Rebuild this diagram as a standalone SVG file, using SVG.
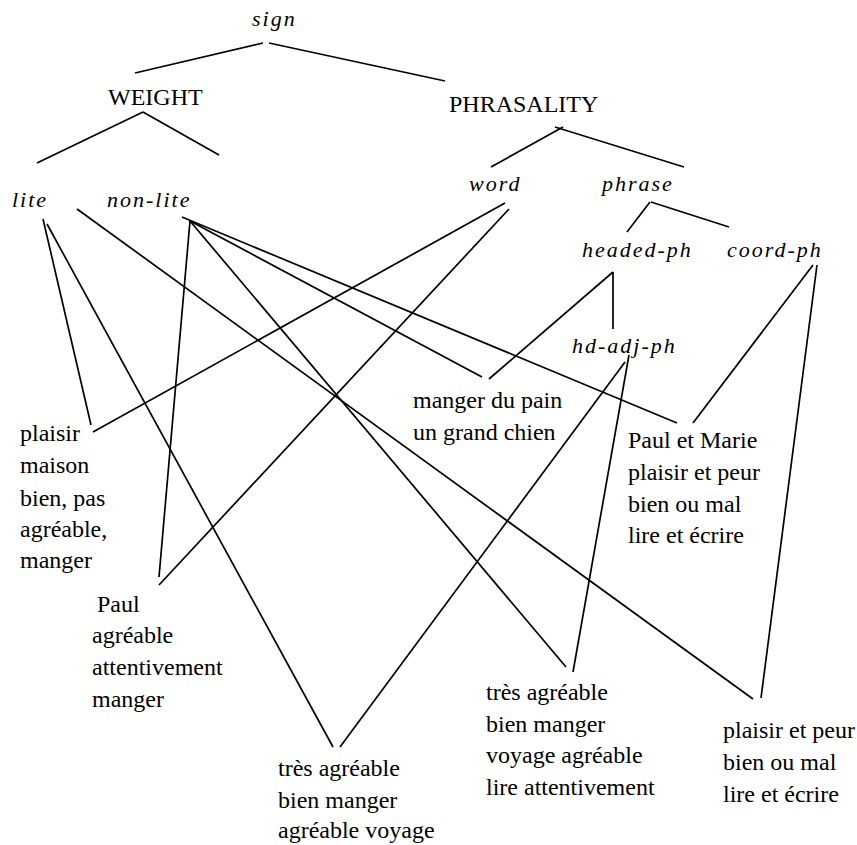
<svg xmlns="http://www.w3.org/2000/svg" width="857" height="845" viewBox="0 0 857 845">
<style>
text{font-family:"Liberation Serif","Times New Roman",serif;fill:#000}
.t{font-size:24px}
.i{font-size:22px;font-style:italic;letter-spacing:2px}
#connectors line{stroke:#000;stroke-width:1.7;stroke-linecap:butt}
</style>
<rect width="857" height="845" fill="#fff"/>
<g id="connectors">
<line x1="263" y1="43" x2="135" y2="73"/>
<line x1="269" y1="43" x2="445" y2="81"/>
<line x1="143" y1="112" x2="37" y2="163"/>
<line x1="143" y1="112" x2="219" y2="155"/>
<line x1="563" y1="127" x2="491" y2="167"/>
<line x1="555" y1="127" x2="684" y2="167"/>
<line x1="650" y1="202" x2="627" y2="232"/>
<line x1="651" y1="202" x2="729" y2="227"/>
<line x1="613" y1="272" x2="613" y2="329"/>
<line x1="613" y1="272" x2="489" y2="379"/>
<line x1="813" y1="265" x2="693" y2="423"/>
<line x1="817" y1="265" x2="761" y2="698"/>
<line x1="625" y1="362" x2="340" y2="747"/>
<line x1="629" y1="355" x2="573" y2="672"/>
<line x1="505" y1="203" x2="93" y2="432"/>
<line x1="509" y1="209" x2="159" y2="585"/>
<line x1="43" y1="219" x2="91" y2="425"/>
<line x1="47" y1="224" x2="333" y2="747"/>
<line x1="77" y1="209" x2="753" y2="699"/>
<line x1="190" y1="221" x2="159" y2="577"/>
<line x1="190" y1="221" x2="566" y2="667"/>
<line x1="190" y1="221" x2="482" y2="377"/>
<line x1="182" y1="217" x2="677" y2="423"/>
</g>
<g id="sign"><text class="i" x="252" y="26">sign</text></g>
<g id="weight"><text class="t" x="108" y="105">WEIGHT</text></g>
<g id="phrasality"><text class="t" x="449" y="112">PHRASALITY</text></g>
<g id="lite"><text class="i" x="12" y="207">lite</text></g>
<g id="non-lite"><text class="i" x="107" y="207">non-lite</text></g>
<g id="word"><text class="i" x="469" y="191">word</text></g>
<g id="phrase"><text class="i" x="602" y="191">phrase</text></g>
<g id="headed-ph"><text class="i" x="582" y="257">headed-ph</text></g>
<g id="coord-ph"><text class="i" x="727" y="257">coord-ph</text></g>
<g id="hd-adj-ph"><text class="i" x="572" y="353">hd-adj-ph</text></g>
<g id="ex-plaisir" class="t">
<text x="20" y="441">plaisir</text>
<text x="20" y="473">maison</text>
<text x="20" y="506">bien, pas</text>
<text x="20" y="537">agréable,</text>
<text x="20" y="568">manger</text>
</g>
<g id="ex-paul" class="t">
<text x="97" y="612">Paul</text>
<text x="92" y="643">agréable</text>
<text x="92" y="675">attentivement</text>
<text x="92" y="707">manger</text>
</g>
<g id="ex-manger" class="t">
<text x="413" y="408">manger du pain</text>
<text x="413" y="440">un grand chien</text>
</g>
<g id="ex-paul-marie" class="t">
<text x="628" y="448">Paul et Marie</text>
<text x="628" y="480">plaisir et peur</text>
<text x="628" y="512">bien ou mal</text>
<text x="628" y="543">lire et écrire</text>
</g>
<g id="ex-tres-1" class="t">
<text x="278" y="776">très agréable</text>
<text x="278" y="808">bien manger</text>
<text x="278" y="838">agréable voyage</text>
</g>
<g id="ex-tres-2" class="t">
<text x="486" y="700">très agréable</text>
<text x="486" y="732">bien manger</text>
<text x="486" y="763">voyage agréable</text>
<text x="486" y="795">lire attentivement</text>
</g>
<g id="ex-plaisir-peur" class="t">
<text x="723" y="738">plaisir et peur</text>
<text x="723" y="770">bien ou mal</text>
<text x="723" y="802">lire et écrire</text>
</g>
</svg>
